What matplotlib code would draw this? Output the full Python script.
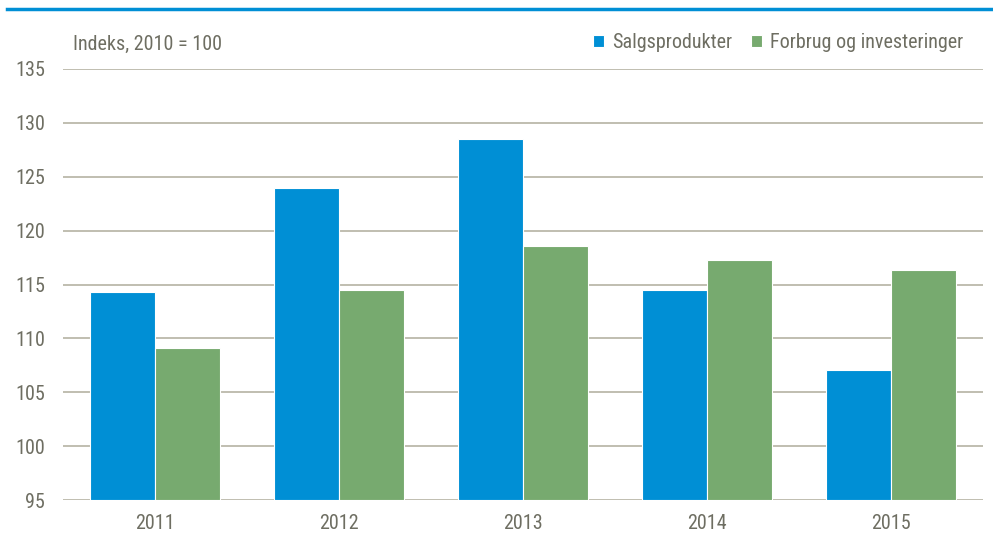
import matplotlib
matplotlib.use("Agg")
import matplotlib.pyplot as plt
from matplotlib import font_manager
import numpy as np

years = ["2011", "2012", "2013", "2014", "2015"]
salgsprodukter = [114.3, 124.0, 128.5, 114.5, 107.1]
forbrug = [109.1, 114.5, 118.6, 117.3, 116.3]
yticks = [95, 100, 105, 110, 115, 120, 125, 130, 135]
series_names = ["Salgsprodukter", "Forbrug og investeringer"]
unit_label = "Indeks, 2010 = 100"

available = {f.name for f in font_manager.fontManager.ttflist}
fam = "DejaVu Sans"
for cand in ["Liberation Sans Narrow", "Arial Narrow", "Roboto Condensed", "DejaVu Sans Condensed", "Liberation Sans"]:
    if cand in available:
        fam = cand
        break
plt.rcParams["font.family"] = [fam, "DejaVu Sans"]

blue = "#008FD5"
green = "#77AA6F"
grid_c = "#B5B3A3"
text_c = "#6E6E62"

fig = plt.figure(figsize=(9.93, 5.42), dpi=100)
ax = fig.add_axes([63/993, 1 - 500/542, 920/993, (500 - 69)/542])

x = np.arange(len(years))
w = 0.355
ax.bar(x - w/2, np.array(salgsprodukter) - 95, w, bottom=95, color=blue, edgecolor="white", linewidth=0.8, zorder=3, label=series_names[0])
ax.bar(x + w/2, np.array(forbrug) - 95, w, bottom=95, color=green, edgecolor="white", linewidth=0.8, zorder=3, label=series_names[1])

ax.set_xlim(-0.5, len(years) - 0.5)
ax.set_ylim(95, 135)
ax.set_yticks(yticks)
ax.set_yticklabels([str(v) for v in yticks])
ax.set_xticks(x)
ax.set_xticklabels(years)
for v in yticks:
    ax.axhline(v, color=grid_c, linewidth=1.2, zorder=1)
for s in ax.spines.values():
    s.set_visible(False)
ax.tick_params(axis="both", length=0, labelsize=14.5, colors=text_c)
ax.tick_params(axis="y", pad=13)
ax.tick_params(axis="x", pad=10)

fig.text(73/993, 1 - 44/542, unit_label, fontsize=14.5, color=text_c, va="center", ha="left")

leg = fig.legend(loc="center right", bbox_to_anchor=(963/993, 1 - 43/542), ncol=2, frameon=False,
                 fontsize=14.5, handlelength=0.55, handleheight=0.55, handletextpad=0.4, columnspacing=0.9,
                 borderaxespad=0, borderpad=0)
for t in leg.get_texts():
    t.set_color(text_c)

fig.add_artist(plt.Line2D([7/993, 1.0], [1 - 9/542, 1 - 9/542], color=blue, linewidth=2.5, transform=fig.transFigure))

fig.savefig("out.png", dpi=100)
print(fam)
